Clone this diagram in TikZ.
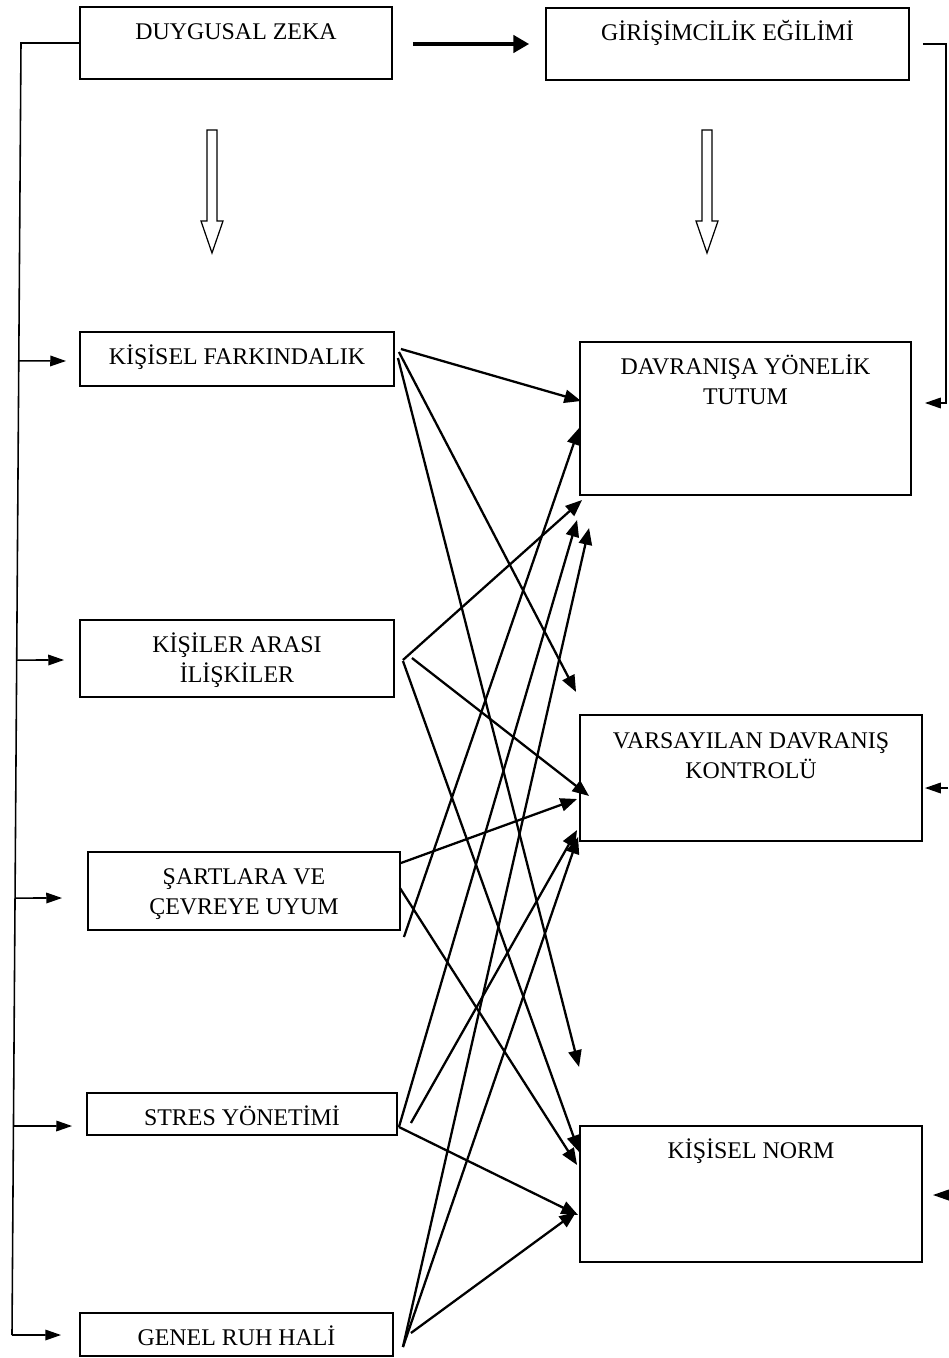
\documentclass[tikz,border=0pt]{standalone}
\usepackage{fontspec}
\setmainfont{Liberation Serif}
\usetikzlibrary{calc,arrows.meta}

\tikzset{
  box/.style={draw, line width=1.1pt, rectangle, inner sep=0pt},
  lbl/.style={anchor=base, align=center, inner sep=0pt, font=\fontsize{13.6}{17}\selectfont},
  link/.style={line width=1.3pt, -{Triangle[length=9.5pt,width=7.5pt]}},
  bracket/.style={line width=0.9pt},
  brarrow/.style={line width=0.9pt, -{Triangle[length=9pt,width=6pt]}},
  hollow/.style={draw, line width=0.7pt, fill=white},
}

\begin{document}
\begin{tikzpicture}[x=0.02cm, y=-0.02cm]
		\useasboundingbox (0,0) rectangle (948,1358);

		% top row
		\node[box, minimum width=6.24cm, minimum height=1.44cm] (dz) at (236,43) {};
		\node[box, minimum width=7.26cm, minimum height=1.44cm] (ge) at (727.5,44) {};
		\node[lbl] (dz-t) at ($(dz.north)+(0,33)$) {DUYGUSAL ZEKA};
		\node[lbl] (ge-t) at ($(ge.north)+(0,33)$) {GİRİŞİMCİLİK EĞİLİMİ};

		% left column
		\node[box, minimum width=6.28cm, minimum height=1.08cm] (kf) at (237,359) {};
		\node[box, minimum width=6.28cm, minimum height=1.54cm] (ka) at (237,658.5) {};
		\node[box, minimum width=6.24cm, minimum height=1.56cm] (sc) at (244,891) {};
		\node[box, minimum width=6.2cm, minimum height=0.84cm] (sy) at (242,1114) {};
		\node[box, minimum width=6.26cm, minimum height=0.86cm] (gr) at (236.5,1334.5) {};
		\node[lbl] (kf-t) at ($(kf.north)+(0,33)$) {KİŞİSEL FARKINDALIK};
		\node[lbl] (ka-t) at ($(ka.north)+(0,63)$) {KİŞİLER ARASI\\İLİŞKİLER};% base = last line
		\node[lbl] (sc-t) at ($(sc.north)+(0,63)$) {ŞARTLARA VE\\ÇEVREYE UYUM};
		\node[lbl] (sy-t) at ($(sy.north)+(0,33)$) {STRES YÖNETİMİ};
		\node[lbl] (gr-t) at ($(gr.north)+(0,33)$) {GENEL RUH HALİ};

		% right column
		\node[box, minimum width=6.62cm, minimum height=3.06cm] (dt) at (745.5,418.5) {};
		\node[box, minimum width=6.84cm, minimum height=2.52cm] (vk) at (751,778) {};
		\node[box, minimum width=6.84cm, minimum height=2.72cm] (kn) at (751,1194) {};
		\node[lbl] (dt-t) at ($(dt.north)+(0,63)$) {DAVRANIŞA YÖNELİK\\TUTUM};
		\node[lbl] (vk-t) at ($(vk.north)+(0,64)$) {VARSAYILAN DAVRANIŞ\\KONTROLÜ};
		\node[lbl] (kn-t) at ($(kn.north)+(0,33)$) {KİŞİSEL NORM};

		\draw[line width=1.8pt, -{Triangle[length=9pt,width=10pt]}] ($(dz.east)+(20,1)$) -- ($(ge.west)+(-16,0)$);

		\foreach \cx in {212,707}{% hollow arrows under the top boxes
		  \draw[hollow] (\cx-5,130) -- (\cx+5,130) -- (\cx+5,221) -- (\cx+11,221) -- (\cx,253) -- (\cx-11,221) -- (\cx-5,221) -- cycle;
		}

		% left bracket
		\coordinate (ltop) at (21,43);
		\coordinate (lbot) at (12,1335);
		\draw[bracket] (dz.west) -- (ltop) -- (lbot);
		\foreach \b/\pos/\ox/\oy in {kf/0.246/-13/2, ka/0.4776/-15/1.5, sc/0.6618/-25/7, sy/0.8382/-14/12, gr/1/-18/0.5}{%
		  \draw[brarrow] ($(ltop)!\pos!(lbot)$) -- ($(\b.west)+(\ox,\oy)$);
		}

		% right bracket
		\coordinate (rtop) at (946,44);
		\coordinate (rmid) at (946,403);
		\coordinate (rv) at (948,788);
		\coordinate (rn) at (948,1195);
		\draw[brarrow] ($(ge.east)+(13,0)$) -- (rtop) -- (rmid) -- ($(dt.east)+(13,-15.5)$);
		\draw[brarrow] (rv) -- ($(vk.east)+(2,10)$);
		\draw[brarrow] (rn) -- ($(kn.east)+(10,1)$);

		% crossing links
		\foreach \src/\ax/\ay/\dst/\bx/\by in {
		  kf/6/-10/dt/2/-17.5, kf/4/-7/vk/-3/-86, kf/3/-1/kn/0/-127,
		  ka/8/1.5/dt/3/81.5, ka/17/-0.5/vk/10/18, ka/8/2.5/kn/0/-42,
		  sc/0/-28/vk/-2/21, sc/-1/-3/kn/-2/-29, sc/3/46/dt/0/9.5,
		  sy/1/13/dt/-2/101.5, sy/13/9/vk/-2/52, sy/1/13/kn/-1/21,
		  gr/17/-1.5/kn/-3/18, gr/9/12.5/dt/10/109.5, gr/9/12.5/vk/-1/59}{%
		  \draw[link] ($(\src.east)+(\ax,\ay)$) -- ($(\dst.west)+(\bx,\by)$);
		}
\end{tikzpicture}
\end{document}
